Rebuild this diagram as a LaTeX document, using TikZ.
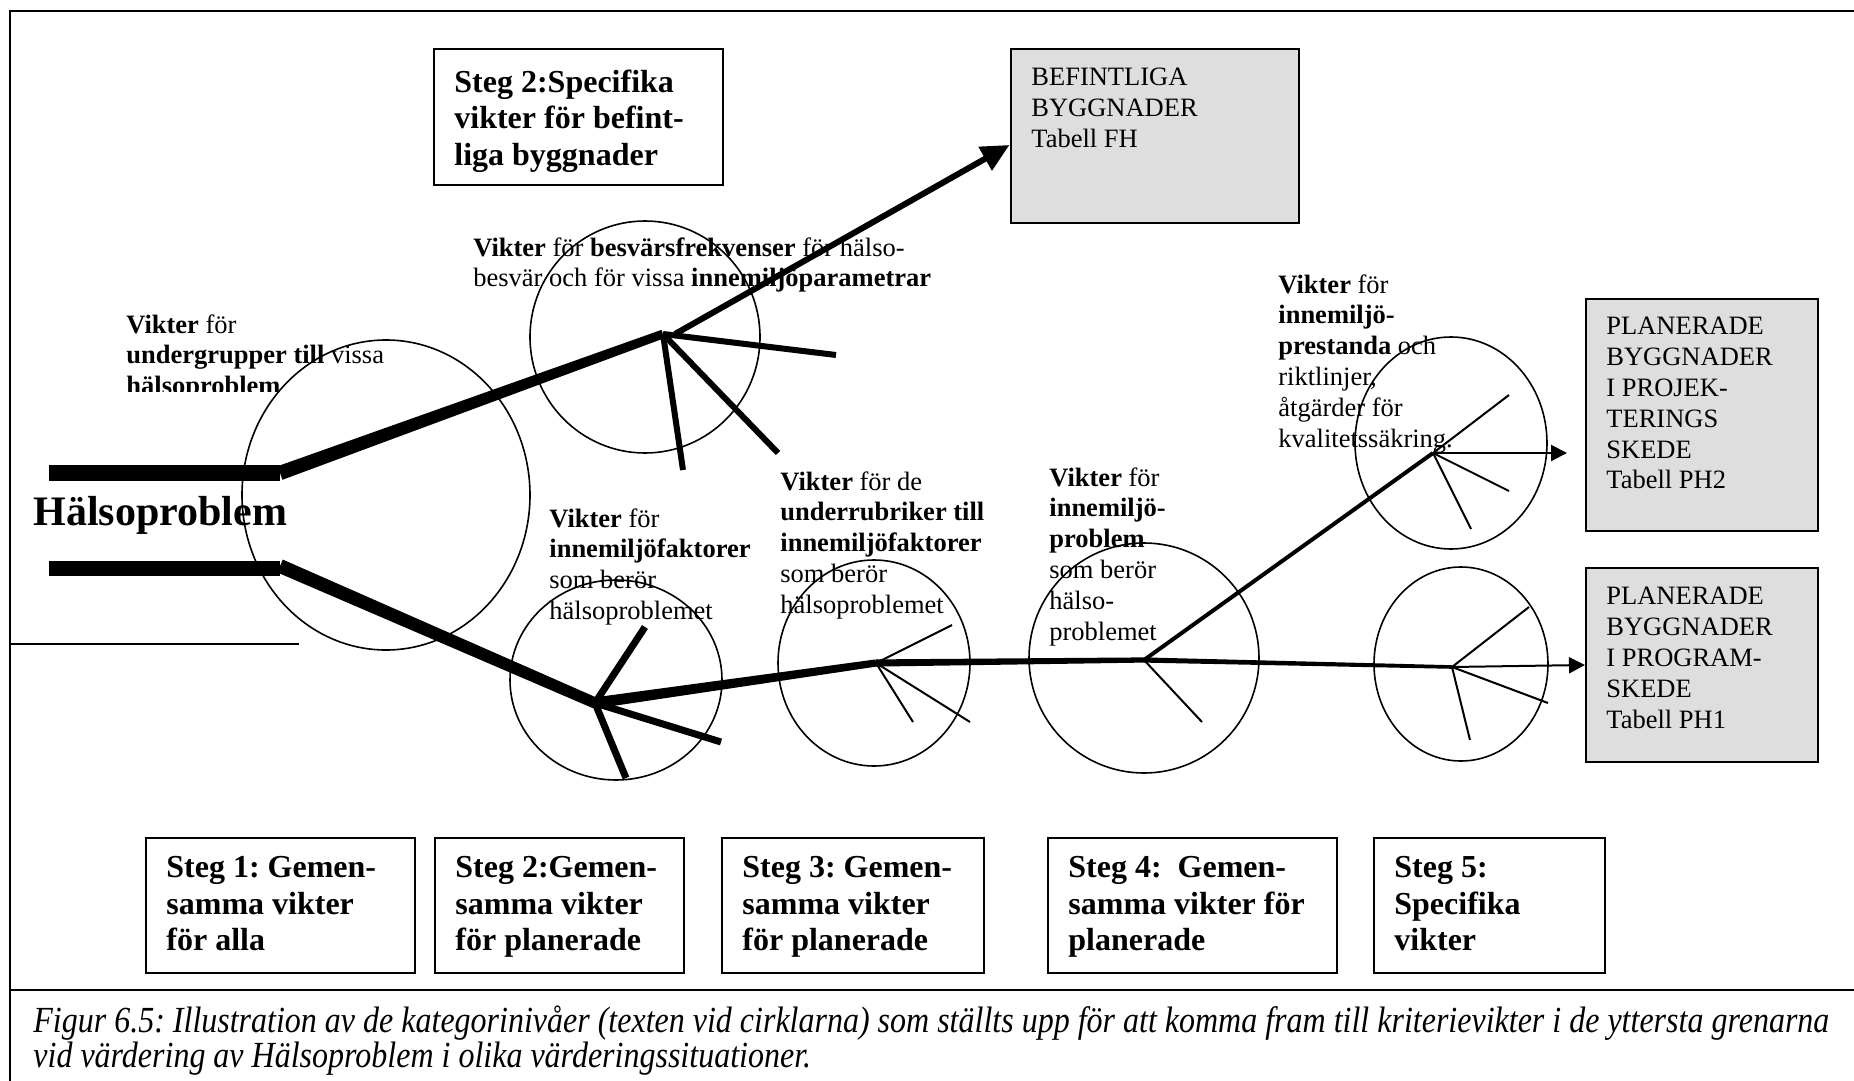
\documentclass[tikz,border=0pt]{standalone}
\usepackage{fontspec}
\usepackage{graphicx}
\setmainfont{Liberation Serif}
\usetikzlibrary{arrows.meta,calc}
\definecolor{boxgray}{RGB}{222,222,222}
\frenchspacing
% filled branch that narrows from half width #3 at (#1) to half width #4 at (#2)
\newcommand\taperline[4]{%
  \fill ($(#1)!#3!90:(#2)$) -- ($(#2)!#4!-90:(#1)$) -- ($(#2)!#4!90:(#1)$) -- ($(#1)!#3!-90:(#2)$) -- cycle;}
\begin{document}
\begin{tikzpicture}[x=0.5pt,y=-0.5pt,
  lab/.style={inner sep=0pt,anchor=north west,align=left,font=\fontsize{13.25pt}{15.4pt}\selectfont},
  steptext/.style={inner sep=0pt,anchor=north west,align=left,font=\fontsize{16pt}{18.25pt}\selectfont\bfseries},
  stepbox/.style={draw,line width=1pt,inner sep=0pt,anchor=north west},
  tabbox/.style={draw,line width=1pt,fill=boxgray,inner sep=0pt,anchor=north west},
  rule/.style={line width=1.1pt},
  ring/.style={line width=0.8pt},
  bar/.style={line width=8pt},
  thin/.style={line width=1pt},
  bigtip/.style={-{Triangle[length=14pt,width=13pt]}},
  smalltip/.style={-{Triangle[length=8pt,width=8pt]}}
]
\useasboundingbox (0,0) rectangle (1854,1081);

% frame of the figure cell
\coordinate (tl) at (10,11);
\coordinate (tr) at (1854,11);
\coordinate (bl) at (10,1081);
\coordinate (sl) at (10,990);
\coordinate (sr) at (1854,990);
\coordinate (ml) at (10,644);
\coordinate (mr) at (299,644);
\draw[rule] (tr) -- (tl) -- (bl);
\draw[rule] (sl) -- (sr);
\draw[rule] (ml) -- (mr);

% circles
\coordinate (c0) at (386,495);
\coordinate (c1) at (645,337);
\coordinate (c2) at (616,680);
\coordinate (c3) at (874,663);
\coordinate (c4) at (1144,658);
\coordinate (c5) at (1451,443);
\coordinate (c6) at (1461,664);
\draw[ring] (c0) ellipse [x radius=144,y radius=155];
\draw[ring] (c1) ellipse [x radius=115,y radius=116];
\draw[ring] (c2) ellipse [x radius=106,y radius=100];
\draw[ring] (c3) ellipse [x radius=96,y radius=103];
\draw[ring] (c4) ellipse [x radius=115,y radius=115];
\draw[ring] (c5) ellipse [x radius=96,y radius=106];
\draw[ring] (c6) ellipse [x radius=87,y radius=97];

% boxes
\node[stepbox,minimum width=144.5pt,minimum height=68pt] (spec) at (433,48) {};
\node[tabbox,minimum width=144.25pt,minimum height=87pt] (bef) at (1009.5,48) {};
\node[tabbox,minimum width=116pt,minimum height=116pt] (ph2) at (1585,298) {};
\node[tabbox,minimum width=116pt,minimum height=97pt] (ph1) at (1585,567) {};
\node[stepbox,minimum width=134.5pt,minimum height=67.5pt] (s1) at (145,837) {};
\node[stepbox,minimum width=124.5pt,minimum height=67.5pt] (s2) at (434,837) {};
\node[stepbox,minimum width=131pt,minimum height=67.5pt] (s3) at (721,837) {};
\node[stepbox,minimum width=144.5pt,minimum height=67.5pt] (s4) at (1047,837) {};
\node[stepbox,minimum width=115.5pt,minimum height=67.5pt] (s5) at (1373,837) {};

% box texts
\node[steptext] (spect) at (454,69.5) {Steg 2:Specifika\\vikter för befint-\\liga byggnader};
\node[lab] (beft) at (1031,68) {BEFINTLIGA\\BYGGNADER\\Tabell FH};
\node[lab] (ph2t) at (1606,317) {PLANERADE\\BYGGNADER\\I PROJEK-\\TERINGS\\SKEDE\\Tabell PH2};
\node[lab] (ph1t) at (1606,587) {PLANERADE\\BYGGNADER\\I PROGRAM-\\SKEDE\\Tabell PH1};
\node[steptext] (s1t) at (166,856) {Steg 1: Gemen-\\samma vikter\\för alla};
\node[steptext] (s2t) at (455,856) {Steg 2:Gemen-\\samma vikter\\för planerade};
\node[steptext] (s3t) at (742,856) {Steg 3: Gemen-\\samma vikter\\för planerade};
\node[steptext] (s4t) at (1068,856) {Steg 4:\ \ Gemen-\\samma vikter för\\planerade};
\node[steptext] (s5t) at (1394,856) {Steg 5:\\Specifika\\vikter};

% junctions and branch ends
\coordinate (ua) at (49,473);
\coordinate (ub) at (280,473);
\coordinate (la) at (49,568.5);
\coordinate (lc) at (280,568.5);
\coordinate (lb) at (280,566);
\coordinate (j1) at (663,334);
\coordinate (j2) at (595,703);
\coordinate (j3) at (876,663);
\coordinate (j4) at (1144,660);
\coordinate (j5) at (1433,453);
\coordinate (j6) at (1452,667);

\coordinate (e1a) at (836,355);
\coordinate (e1b) at (683,470);
\coordinate (e1c) at (778,453);
\coordinate (e2a) at (645,627);
\coordinate (e2b) at (721,742);
\coordinate (e2c) at (626,778);
\coordinate (e3a) at (952,625);
\coordinate (e3b) at (970,722);
\coordinate (e3c) at (913,722);
\coordinate (e4a) at (1202,722);
\coordinate (e5a) at (1509,395);
\coordinate (e5b) at (1509,491);
\coordinate (e5c) at (1471,529);
\coordinate (e6a) at (1529,607);
\coordinate (e6b) at (1548,703);
\coordinate (e6c) at (1470,740);
\coordinate (befst) at (675,334);
\coordinate (befin) at (1009.5,145);
\coordinate (ph2in) at (1567,453);

% trunk
\draw[bar] (ua) -- (ub);
\draw[line width=7.5pt] (la) -- (lc);
\taperline{ub}{j1}{3.6pt}{2.2pt}
\taperline{lb}{j2}{3.5pt}{2.8pt}
\taperline{j2}{j3}{2.8pt}{1.8pt}
\taperline{j3}{j4}{1.8pt}{1.3pt}
\taperline{j4}{j6}{1.3pt}{0.9pt}
\draw[line width=2pt] (j4) -- (j5);

% branches
\draw[line width=3pt,bigtip] (befst) -- (befin);
\draw[line width=3pt] (j1) -- (e1a);
\draw[line width=3pt] (j1) -- (e1b);
\draw[line width=3pt] (j1) -- (e1c);
\draw[line width=3.5pt] (j2) -- (e2a);
\draw[line width=3.5pt] (j2) -- (e2b);
\draw[line width=3.5pt] (j2) -- (e2c);
\draw[thin] (j3) -- (e3a);
\draw[thin] (j3) -- (e3b);
\draw[thin] (j3) -- (e3c);
\draw[thin] (j4) -- (e4a);
\draw[thin,smalltip] (j5) -- (ph2in);
\draw[thin] (j5) -- (e5a);
\draw[thin] (j5) -- (e5b);
\draw[thin] (j5) -- (e5c);
\draw[thin,smalltip] (j6) -- (ph1.west);
\draw[thin] (j6) -- (e6a);
\draw[thin] (j6) -- (e6b);
\draw[thin] (j6) -- (e6c);

% labels at the circles
\begin{scope}
\clip (100,290) rectangle (460,391);
\node[lab] (l1) at (126,314) {\textbf{Vikter} för\\\textbf{undergrupper till} vissa\\\textbf{hälsoproblem}};
\end{scope}
\node[lab] (l2) at (473,237) {\textbf{Vikter} för \textbf{besvärsfrekvenser} för hälso-\\besvär och för vissa \textbf{innemiljöparametrar}};
\node[lab] (l3) at (549,508) {\textbf{Vikter} för\\\textbf{innemiljöfaktorer}\\som berör\\hälsoproblemet};
\node[lab] (l4) at (780,471) {\textbf{Vikter} för de\\\textbf{underrubriker till}\\\textbf{innemiljöfaktorer}\\som berör\\hälsoproblemet};
\node[lab] (l5) at (1049,467) {\textbf{Vikter} för\\\textbf{innemiljö-}\\\textbf{problem}\\som berör\\hälso-\\problemet};
\node[lab] (l6) at (1278,274) {\textbf{Vikter} för\\\textbf{innemiljö-}\\\textbf{prestanda} och\\riktlinjer,\\åtgärder för\\kvalitetssäkring.};

\node[inner sep=0pt,anchor=base west,font=\fontsize{21pt}{25pt}\selectfont\bfseries] (hp) at (33,525) {Hälsoproblem};

% caption
\node[inner sep=0pt,anchor=north west,font=\fontsize{16pt}{16.5pt}\selectfont\itshape] (cap) at (33,1005)
  {\scalebox{1}[1.15]{\vbox{\baselineskip=14.3pt
    \hbox{Figur 6.5: Illustration av de kategorinivåer (texten vid cirklarna) som ställts upp för att komma fram till kriterievikter i de yttersta grenarna}
    \hbox{vid värdering av Hälsoproblem i olika värderingssituationer.}}}};
\end{tikzpicture}
\end{document}
